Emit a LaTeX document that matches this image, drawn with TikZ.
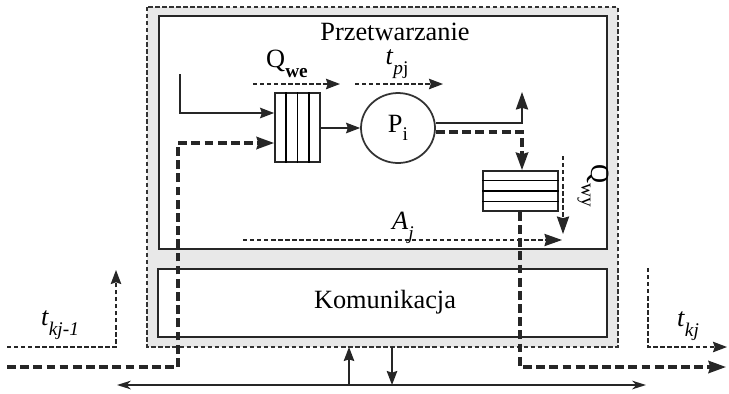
\documentclass[tikz,border=0pt]{standalone}
\usepackage{fontspec}
\setmainfont{Liberation Serif}
\usetikzlibrary{arrows.meta,calc,shapes.geometric}
\begin{document}
\begin{tikzpicture}[x=0.02cm,y=-0.02cm,
  box/.style={draw=black!85, line width=1.3pt, fill=white},
  thickdash/.style={line width=1.8pt, dash pattern=on 5pt off 2.5pt, draw=black!85},
  thindash/.style={line width=0.7pt, dash pattern=on 2.5pt off 1.5pt, draw=black!85},
  solid1/.style={line width=0.9pt, draw=black!85},
  tip/.style={-{Stealth[length=8pt,width=6pt,inset=1pt]}},
  bigtip/.style={-{Stealth[length=10pt,width=7pt,inset=1pt]}},
  lbl/.style={font=\fontsize{15}{17}\selectfont, inner sep=0pt}]
\useasboundingbox (0,0) rectangle (729,393);
% outer dashed frame
\draw[fill=gray!18, draw=black!80, line width=0.8pt, dash pattern=on 2.5pt off 1.5pt] (147,7) rectangle (618,347);
\node[box, minimum width=8.96cm, minimum height=4.66cm, inner sep=0pt] (proc) at (383,132.5) {};
\node[box, minimum width=8.98cm, minimum height=1.36cm, inner sep=0pt] (kom) at (382.5,303) {};
\node[lbl] (ptxt) at (395,32) {Przetwarzanie};
\node[lbl] (ktxt) at (385,302) {Komunikacja};
% input queue
\node[draw=black!85, line width=1pt, minimum width=0.9cm, minimum height=1.38cm, inner sep=0pt] (qwe) at (297.5,127.5) {};
\foreach \k in {1,2,3} \draw[line width=0.9pt] ($(qwe.north west)!\k/4!(qwe.north east)$) -- ($(qwe.south west)!\k/4!(qwe.south east)$);
% processor
\node[draw=black!80, line width=1pt, ellipse, minimum width=1.48cm, minimum height=1.4cm, inner sep=0pt] (P) at (398,128) {};
\node[lbl] (Ptxt) at (398,128) {P\raisebox{-0.7ex}{\fontsize{11}{12}\selectfont i}};
% output queue
\node[draw=black!85, line width=1pt, minimum width=1.5cm, minimum height=0.8cm, inner sep=0pt] (qwy) at (520.5,191) {};
\foreach \k in {1,2,3} \draw[line width=0.9pt] ($(qwy.north west)!\k/4!(qwy.south west)$) -- ($(qwy.north east)!\k/4!(qwy.south east)$);
% labels
\node[lbl] (lqwe) at (287,64) {Q\raisebox{-0.8ex}{\fontsize{11}{12}\selectfont\bfseries we}};
\node[lbl] (ltpj) at (397,64) {\textit{t}\raisebox{-0.8ex}{\fontsize{11}{12}\selectfont\textit{p}j}};
\node[lbl, rotate=-90] (lqwy) at (593,186) {Q\raisebox{-0.8ex}{\fontsize{11}{12}\selectfont wy}};
\node[lbl] (laj) at (403,228) {\textit{A}\raisebox{-0.8ex}{\fontsize{11}{12}\selectfont\textit{j}}};
\node[lbl] (ltk1) at (60,325) {\textit{t}\raisebox{-0.8ex}{\fontsize{11}{12}\selectfont\textit{kj-1}}};
\node[lbl] (ltk) at (688,326) {\textit{t}\raisebox{-0.8ex}{\fontsize{11}{12}\selectfont\textit{kj}}};
% coordinates
\coordinate (a1) at (253,84); \coordinate (a2) at (340,84);
\coordinate (b1) at (355,84); \coordinate (b2) at (443,84);
\coordinate (in0) at (180,74); \coordinate (in1) at (180,113);
\coordinate (d0) at (7,367); \coordinate (d1) at (178,367); \coordinate (d2) at (178,143);
\coordinate (s1) at (522,123); \coordinate (s2) at (522,92);
\coordinate (t1) at (522,132);
\coordinate (o1) at (520,367); \coordinate (o2) at (726,367);
\coordinate (w0) at (563,156); \coordinate (w1) at (563,234);
\coordinate (aj0) at (243,240); \coordinate (aj1) at (562,240);
\coordinate (k0) at (7,347); \coordinate (k1) at (116,347); \coordinate (k2) at (116,270);
\coordinate (m0) at (648,268); \coordinate (m1) at (648,347); \coordinate (m2) at (727,347);
\coordinate (bus0) at (117,385); \coordinate (bus1) at (646,385);
\coordinate (up0) at (349,385); \coordinate (up1) at (349,347);
\coordinate (dn0) at (392,347); \coordinate (dn1) at (392,385);
% connectors
\draw[thindash, tip] (a1) -- (a2);
\draw[thindash, tip] (b1) -- (b2);
\draw[solid1, tip] (in0) -- (in1) -- (in1 -| qwe.west);
\draw[thickdash, bigtip] (d0) -- (d1) -- (d2) -- (d2 -| qwe.west);
\draw[solid1, tip] (qwe.east |- P) -- (P.west);
\draw[solid1, bigtip] (P.east |- s1) -- (s1) -- (s2);
\draw[thickdash, bigtip] (P.east |- t1) -- (t1) -- (t1 |- qwy.north);
\draw[thickdash, bigtip] (qwy.south -| o1) -- (o1) -- (o2);
\draw[thindash, bigtip] (w0) -- (w1);
\draw[thindash, bigtip] (aj0) -- (aj1);
\draw[thindash, tip] (k0) -- (k1) -- (k2);
\draw[thindash, tip] (m0) -- (m1) -- (m2);
\draw[solid1, {Stealth[length=8pt,width=5pt]}-{Stealth[length=8pt,width=5pt]}] (bus0) -- (bus1);
\draw[solid1, tip] (up0) -- (up1);
\draw[solid1, tip] (dn0) -- (dn1);
\end{tikzpicture}
\end{document}
